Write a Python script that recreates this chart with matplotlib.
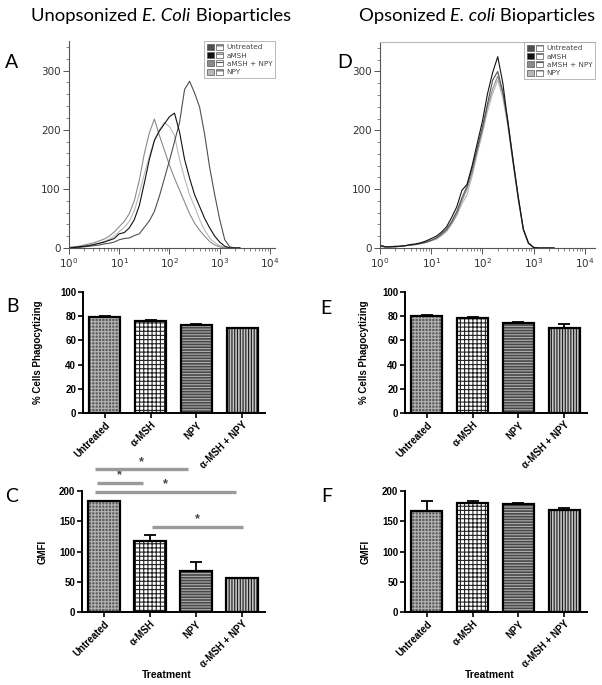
import matplotlib
matplotlib.use("Agg")
import matplotlib.pyplot as plt
from matplotlib.patches import Patch
from matplotlib.legend_handler import HandlerTuple
from matplotlib.ticker import MultipleLocator, LogLocator, NullFormatter

plt.rcParams['hatch.linewidth'] = 0.8

# ---------------- data ----------------
treatments = ["Untreated", "α-MSH", "NPY", "α-MSH + NPY"]
hist_names = ["Untreated", "aMSH", "aMSH + NPY", "NPY"]

# log10 of fluorescence intensity for histogram points
log_fl = [0.0, 0.1, 0.2, 0.3, 0.4, 0.5, 0.6, 0.7, 0.8, 0.9,
          1.0, 1.1, 1.2, 1.3, 1.4, 1.5, 1.6, 1.7, 1.8, 1.9,
          2.0, 2.1, 2.2, 2.3, 2.4, 2.5, 2.6, 2.7, 2.8, 2.9,
          3.0, 3.1, 3.2, 3.3, 3.4]

# panel A: unopsonized counts
unops_untreated = [0, 1, 1, 2, 3, 4, 5, 7, 8, 10, 14, 16, 17, 21, 24, 35, 46, 62, 88, 118,
                   148, 180, 212, 268, 282, 262, 238, 192, 136, 90, 48, 14, 2, 0, 0]
unops_amsh = [0, 1, 2, 3, 4, 6, 8, 10, 13, 16, 24, 26, 34, 48, 72, 110, 150, 182, 198, 210,
              222, 228, 196, 150, 118, 90, 70, 50, 34, 20, 10, 3, 0, 0, 0]
unops_amsh_npy = [1, 2, 3, 5, 7, 9, 12, 15, 20, 27, 36, 45, 58, 80, 115, 160, 195, 218, 190, 165,
                  140, 118, 98, 78, 58, 42, 30, 20, 11, 5, 2, 0, 0, 0, 0]
unops_npy = [1, 1, 2, 3, 5, 6, 8, 11, 15, 20, 28, 35, 45, 63, 92, 125, 155, 182, 200, 212,
             205, 190, 150, 118, 90, 70, 48, 30, 17, 9, 4, 1, 0, 0, 0]

# panel D: opsonized counts
ops_untreated = [5, 2, 2, 2, 3, 4, 5, 6, 8, 10, 13, 17, 24, 32, 45, 62, 85, 105, 135, 170,
                 205, 245, 285, 300, 265, 215, 150, 88, 32, 9, 1, 0, 0, 0, 0]
ops_amsh = [4, 2, 2, 3, 3, 4, 6, 7, 9, 12, 16, 20, 27, 36, 52, 70, 98, 108, 140, 178,
            215, 262, 298, 325, 280, 212, 148, 86, 32, 8, 1, 0, 0, 0, 0]
ops_amsh_npy = [5, 2, 2, 2, 3, 4, 5, 6, 8, 10, 13, 16, 22, 30, 42, 58, 80, 100, 128, 165,
                200, 240, 270, 292, 262, 210, 145, 84, 31, 8, 1, 0, 0, 0, 0]
ops_npy = [3, 1, 2, 2, 3, 4, 5, 6, 7, 9, 12, 15, 21, 28, 40, 55, 75, 90, 122, 160,
           195, 232, 262, 285, 255, 205, 142, 82, 30, 8, 1, 0, 0, 0, 0]

# % cells phagocytizing
unops_pct = [79, 76, 72.5, 70]
unops_pct_err = [0.8, 0.8, 1.2, 0.0]
ops_pct = [80, 78.5, 74, 70.5]
ops_pct_err = [0.8, 0.8, 0.8, 3.0]

# GMFI
unops_gmfi = [184, 117, 67, 56]
unops_gmfi_err = [0, 11, 15, 0]
ops_gmfi = [167, 180, 178, 168]
ops_gmfi_err = [16, 4, 2, 4]

# significance brackets (from, to, height)
sig_from = [-0.19, -0.16, -0.19, 1.04]
sig_to = [1.83, 0.84, 2.86, 3.03]
sig_y = [236, 214, 199, 141]

# ---------------- style ----------------
hist_colors = ["#505050", "#111111", "#8a8a8a", "#b8b8b8"]
bar_face = ["#5c5c5c", "#ffffff", "#474747", "#c4c4c4"]
bar_hatchc = ["#b4b4b4", "#222222", "#b0b0b0", "#1a1a1a"]
bar_hatch = ["+++++", "++++", "------", "||||||"]

W, H = 602, 685
fig = plt.figure(figsize=(W / 100, H / 100), dpi=100)


def box(l, t, r, b):
    return [l / W, 1 - b / H, (r - l) / W, (b - t) / H]


def hist_panel(rect, series, xmax, top_spine=False):
    ax = fig.add_axes(rect)
    xs = [10 ** v for v in log_fl]
    for i in [3, 2, 0, 1]:
        ax.plot(xs, series[i], color=hist_colors[i], lw=0.8)
    ax.set_xscale("log")
    ax.set_xlim(1, xmax)
    ax.set_ylim(0, 350)
    ax.set_yticks([0, 100, 200, 300])
    ax.yaxis.set_minor_locator(MultipleLocator(20))
    ax.xaxis.set_major_locator(LogLocator(base=10, numticks=10))
    ax.xaxis.set_minor_locator(LogLocator(base=10, subs=range(2, 10), numticks=20))
    ax.xaxis.set_minor_formatter(NullFormatter())
    ax.spines["right"].set_visible(False)
    ax.spines["top"].set_visible(top_spine)
    ax.spines["top"].set_color("#bbbbbb")
    for s in ["left", "bottom"]:
        ax.spines[s].set_color("#555555")
        ax.spines[s].set_linewidth(0.8)
    ax.tick_params(which="major", length=4, width=0.7, colors="#555555",
                   labelsize=7.5, labelcolor="#333333", pad=2)
    ax.tick_params(which="minor", length=2, width=0.5, colors="#555555")
    handles = []
    for i in range(4):
        handles.append((Patch(facecolor=hist_colors[i], edgecolor="#555555", lw=0.5),
                        Patch(facecolor="white", edgecolor="#555555", hatch="--", lw=0.5)))
    leg = ax.legend(handles, hist_names, loc="upper right", bbox_to_anchor=(1.0, 1.0),
                    handler_map={tuple: HandlerTuple(ndivide=None, pad=0.2)},
                    fontsize=5.2, frameon=True, fancybox=False, borderaxespad=0,
                    handlelength=2.2, handleheight=0.9, handletextpad=0.5,
                    labelspacing=0.25, borderpad=0.4, labelcolor="#444444")
    leg.get_frame().set_edgecolor("#999999")
    leg.get_frame().set_linewidth(0.6)
    return ax


def bar_panel(rect, vals, errs, ylim, ystep, ylabel, ylabel_x):
    ax = fig.add_axes(rect)
    pos = list(range(len(treatments)))
    for i, p in enumerate(pos):
        ax.bar(p, vals[i], width=0.68, facecolor=bar_face[i], edgecolor=bar_hatchc[i],
               hatch=bar_hatch[i], linewidth=0, zorder=2)
    ax.bar(pos, vals, width=0.68, fill=False, edgecolor="black", linewidth=1.6, zorder=3)
    ax.errorbar(pos, vals, yerr=[[0] * len(errs), errs], fmt="none", ecolor="black",
                elinewidth=1.3, capsize=4.5, capthick=1.3, zorder=1)
    ax.set_xlim(-0.48, 3.5)
    ax.set_ylim(0, ylim)
    ax.set_yticks(range(0, ylim + 1, ystep))
    ax.set_xticks(pos)
    ax.set_xticklabels(treatments, rotation=45, ha="right", rotation_mode="anchor",
                       fontsize=7, fontweight="bold", family="Liberation Sans")
    for lab in ax.get_yticklabels():
        lab.set_fontsize(7)
        lab.set_fontweight("bold")
        lab.set_family("Liberation Sans")
    for s in ["top", "right"]:
        ax.spines[s].set_visible(False)
    for s in ["left", "bottom"]:
        ax.spines[s].set_linewidth(1.4)
    ax.tick_params(length=3.5, width=1.2, pad=1.5)
    ax.set_ylabel(ylabel, fontsize=7, fontweight="bold", family="Liberation Sans")
    ax.yaxis.set_label_coords(ylabel_x, 0.5)
    return ax


axA = hist_panel(box(69, 41, 275, 248),
                 [unops_untreated, unops_amsh, unops_amsh_npy, unops_npy], 10 ** 4.1)
axD = hist_panel(box(380, 42, 595, 248),
                 [ops_untreated, ops_amsh, ops_amsh_npy, ops_npy], 10 ** 4.2, top_spine=True)

axB = bar_panel(box(83, 292, 265, 413), unops_pct, unops_pct_err, 100, 20,
                "% Cells Phagocytizing", -0.22)
axE = bar_panel(box(405, 292, 587, 413), ops_pct, ops_pct_err, 100, 20,
                "% Cells Phagocytizing", -0.2)
axC = bar_panel(box(82, 491, 265, 612), unops_gmfi, unops_gmfi_err, 200, 50, "GMFI", -0.19)
axF = bar_panel(box(405, 491, 587, 612), ops_gmfi, ops_gmfi_err, 200, 50, "GMFI", -0.19)

for x in [167, 490]:
    fig.text(x / W, 1 - 675 / H, "Treatment", fontsize=7.5, fontweight="bold",
             family="Liberation Sans", ha="center", va="center")

# significance lines in panel C
for x0, x1, y in zip(sig_from, sig_to, sig_y):
    axC.plot([x0, x1], [y, y], color="#9a9a9a", lw=2.4, solid_capstyle="butt",
             clip_on=False, zorder=4)
    axC.text((x0 + x1) / 2, y + 2, "*", ha="center", va="bottom", fontsize=9,
             fontweight="bold", color="#444444", family="Liberation Sans", clip_on=False)

# panel letters
for letter, x, y in [("A", 12, 63), ("B", 13, 307), ("C", 12, 496),
                     ("D", 345, 63), ("E", 326, 308), ("F", 327, 497)]:
    fig.text(x / W, 1 - y / H, letter, fontsize=14, family="Lato",
             ha="center", va="center")


# column titles with italic species name
def mixed_title(xc, y, parts):
    r = fig.canvas.get_renderer()
    objs = []
    widths = []
    for txt, style in parts:
        t = fig.text(0, 1 - y / H, txt, fontsize=13.3, family="Lato", style=style,
                     ha="left", va="center")
        objs.append(t)
        widths.append(t.get_window_extent(renderer=r).width)
    total = sum(widths)
    x = xc - total / 2
    for t, w in zip(objs, widths):
        t.set_x(x / W)
        x += w


mixed_title(161, 16, [("Unopsonized ", "normal"), ("E. Coli", "italic"),
                      (" Bioparticles", "normal")])
mixed_title(477, 16, [("Opsonized ", "normal"), ("E. coli", "italic"),
                      (" Bioparticles", "normal")])

fig.savefig("out.png", dpi=100)
